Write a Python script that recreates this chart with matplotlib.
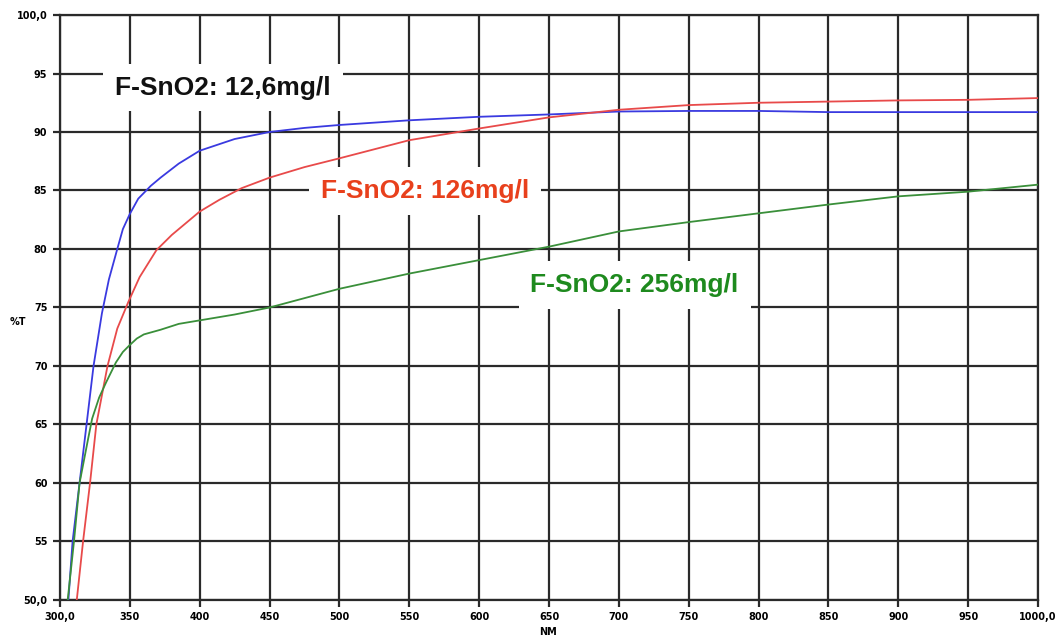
import matplotlib
matplotlib.use("Agg")
import matplotlib.pyplot as plt
from matplotlib.ticker import FixedLocator

# ---- data ----
blue_nm = [306, 309, 314, 318, 324, 330, 335, 341, 345, 350, 356, 365, 372, 385, 400, 425,
           450, 475, 500, 550, 600, 650, 700, 750, 800, 850, 900, 950, 1000]
blue_t = [50, 55, 60, 64, 70, 74.5, 77.4, 80, 81.7, 83, 84.3, 85.4, 86.1, 87.3, 88.4, 89.4,
          90.0, 90.35, 90.6, 91.0, 91.3, 91.5, 91.75, 91.8, 91.8, 91.7, 91.7, 91.7, 91.7]

red_nm = [312, 316.5, 321.5, 326, 334, 341, 349, 357, 369, 380, 388, 400, 414, 430, 450, 475,
          500, 550, 600, 650, 700, 750, 800, 850, 900, 950, 1000]
red_t = [50, 55, 60, 65, 70, 73.2, 75.5, 77.6, 79.9, 81.2, 82.0, 83.2, 84.2, 85.2, 86.1, 87.0,
         87.75, 89.3, 90.3, 91.25, 91.9, 92.3, 92.5, 92.6, 92.7, 92.75, 92.9]

green_nm = [305.5, 310, 314, 320, 323, 328, 333, 340, 345, 350, 355, 360, 372, 385, 400, 425,
            450, 500, 550, 600, 650, 700, 750, 800, 850, 900, 950, 1000]
green_t = [50, 55, 60, 63.7, 65.5, 67.3, 68.6, 70.3, 71.2, 71.8, 72.35, 72.7, 73.1, 73.6, 73.9,
           74.4, 75.0, 76.6, 77.9, 79.05, 80.2, 81.5, 82.3, 83.05, 83.8, 84.5, 84.9, 85.5]

x_ticks = [300, 350, 400, 450, 500, 550, 600, 650, 700, 750, 800, 850, 900, 950, 1000]
x_labels = ["300,0", "350", "400", "450", "500", "550", "600", "650", "700", "750",
            "800", "850", "900", "950", "1000,0"]
y_ticks = [50, 55, 60, 65, 70, 75, 80, 85, 90, 95, 100]
y_labels = ["50,0", "55", "60", "65", "70", "75", "80", "85", "90", "95", "100,0"]

labels = ["F-SnO2: 12,6mg/l", "F-SnO2: 126mg/l", "F-SnO2: 256mg/l"]

# ---- figure ----
fig = plt.figure(figsize=(10.59, 6.39), dpi=100)
ax = fig.add_axes([60 / 1059, 1 - 600 / 639, (1038 - 60) / 1059, (600 - 15) / 639])

ax.set_xlim(300, 1000)
ax.set_ylim(50, 100)
ax.xaxis.set_major_locator(FixedLocator(x_ticks))
ax.yaxis.set_major_locator(FixedLocator(y_ticks))
ax.set_xticklabels(x_labels)
ax.set_yticklabels(y_labels)
ax.set_axisbelow(True)
ax.grid(True, color="#2a2a2a", linewidth=1.6)
for s in ax.spines.values():
    s.set_color("#2a2a2a")
    s.set_linewidth(1.6)
ax.tick_params(axis="both", length=5, width=1.6, color="#2a2a2a",
               labelsize=7, pad=4)
for lab in ax.get_xticklabels() + ax.get_yticklabels():
    lab.set_fontweight("bold")
    lab.set_family("DejaVu Sans")

ax.plot(blue_nm, blue_t, color="#3a3ae0", lw=1.3, zorder=3)
ax.plot(red_nm, red_t, color="#e84a4a", lw=1.3, zorder=3)
ax.plot(green_nm, green_t, color="#3a8f3a", lw=1.3, zorder=3)

fig.text(18 / 1059, 1 - 322 / 639, "%T", fontsize=7, fontweight="bold",
         ha="center", va="center")
fig.text(548 / 1059, 1 - 632 / 639, "NM", fontsize=7, fontweight="bold",
         ha="center", va="center")

box = dict(boxstyle="square,pad=0.45", facecolor="white", edgecolor="none")
ax.text(0.1667, 0.876, labels[0], transform=ax.transAxes, fontsize=19,
        fontweight="bold", family="Liberation Sans", color="#111111",
        ha="center", va="center", bbox=box, zorder=2)
ax.text(0.373, 0.699, labels[1], transform=ax.transAxes, fontsize=19,
        fontweight="bold", family="Liberation Sans", color="#e8401c",
        ha="center", va="center", bbox=box, zorder=2)
ax.text(0.5875, 0.538, labels[2], transform=ax.transAxes, fontsize=19,
        fontweight="bold", family="Liberation Sans", color="#1e8a1e",
        ha="center", va="center", bbox=box, zorder=2)

fig.savefig("out.png", dpi=100)
